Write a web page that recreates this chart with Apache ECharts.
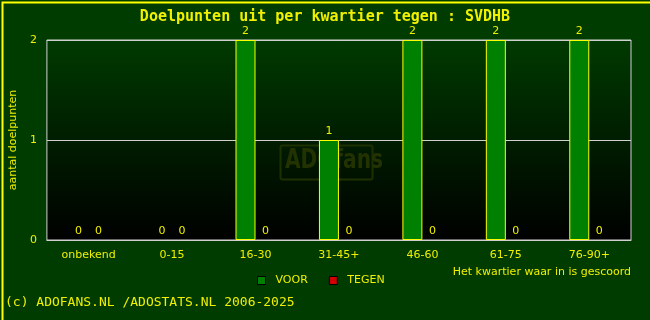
<!DOCTYPE html>
<html><head><meta charset="utf-8">
<script src="https://cdn.jsdelivr.net/npm/echarts@6/dist/echarts.min.js"></script>
<style>html,body{margin:0;padding:0;background:#003c00}#c{width:650px;height:320px}</style>
</head><body><div id="c"></div>
<script>
const categories = ['onbekend','0-15','16-30','31-45+','46-60','61-75','76-90+'];
const voor = [0,0,2,1,2,2,2];
const tegen = [0,0,0,0,0,0,0];
const yTicks = [0,1,2];

const chart = echarts.init(document.getElementById('c'));
const yellow = '#f0f000';
const font = 'DejaVu Sans';
const styled = arr => arr.map(v => ({value:v, itemStyle:{borderWidth: v === 0 ? 0 : 1}}));
chart.setOption({
  animation:false,
  backgroundColor:'#003c00',
  title:{text:'Doelpunten uit per kwartier tegen : SVDHB',left:'center',top:5,
    textStyle:{color:yellow,fontFamily:'DejaVu Sans Mono',fontSize:15,fontWeight:'bold'}},
  grid:{left:45,right:19,top:40,bottom:80,show:true,borderColor:'#d0d0d0',borderWidth:1,
    backgroundColor:new echarts.graphic.LinearGradient(0,0,0,1,[{offset:0,color:'#003a00'},{offset:1,color:'#000000'}])},
  legend:{left:257,top:275,padding:0,itemWidth:8,itemHeight:8,itemGap:21,icon:'rect',
    textStyle:{color:yellow,fontFamily:font,fontSize:11,padding:[0,0,0,5]},
    data:[{name:'VOOR',itemStyle:{color:'#008000',borderColor:'#000',borderWidth:1}},
          {name:'TEGEN',itemStyle:{color:'#d00000',borderColor:'#000',borderWidth:1}}]},
  xAxis:{type:'category',data:categories,axisTick:{show:false},
    axisLine:{lineStyle:{color:'#d0d0d0'}},
    axisLabel:{color:yellow,fontFamily:font,fontSize:11,margin:10},
    name:'Het kwartier waar in is gescoord',nameLocation:'end',nameGap:0,
    nameTextStyle:{color:yellow,fontFamily:font,fontSize:11,align:'right',verticalAlign:'top',padding:[27,0,0,0]}},
  yAxis:{type:'value',min:0,max:2,interval:1,
    axisLabel:{color:yellow,fontFamily:font,fontSize:11,margin:10,formatter:v=>yTicks.includes(v)?String(v):''},
    splitLine:{lineStyle:{color:'#d0d0d0'}},
    name:'aantal doelpunten',nameLocation:'middle',nameGap:27,
    nameTextStyle:{color:yellow,fontFamily:font,fontSize:11}},
  series:[
    {name:'VOOR',type:'bar',data:styled(voor),barWidth:20,barGap:'0%',
     itemStyle:{color:'#008000',borderColor:'#ffff00',borderWidth:1},
     label:{show:true,position:'top',color:yellow,fontFamily:font,fontSize:11,distance:3}},
    {name:'TEGEN',type:'bar',data:styled(tegen),barWidth:20,
     itemStyle:{color:'#d00000',borderColor:'#ffff00',borderWidth:1},
     label:{show:true,position:'top',color:yellow,fontFamily:font,fontSize:11,distance:3}}
  ],
  graphic:[
    {type:'rect',left:0,top:0,shape:{width:649,height:319},style:{fill:'none',stroke:'#ffff00',lineWidth:2},silent:true,z:100},
    {type:'rect',left:278,top:143,shape:{width:92,height:34,r:2},style:{fill:'none',stroke:'#1f3000',lineWidth:2},z:0,silent:true},
    {type:'text',left:285,top:148,style:{text:'ADOfans',fill:'#223200',font:'bold 26px "DejaVu Sans Condensed", "DejaVu Sans"',overflow:'none'},scaleX:0.86,z:0,silent:true},
    {type:'text',left:5,top:296,style:{text:'(c) ADOFANS.NL /ADOSTATS.NL 2006-2025',fill:yellow,font:'13px "DejaVu Sans Mono"'}}
  ]
});
</script></body></html>
